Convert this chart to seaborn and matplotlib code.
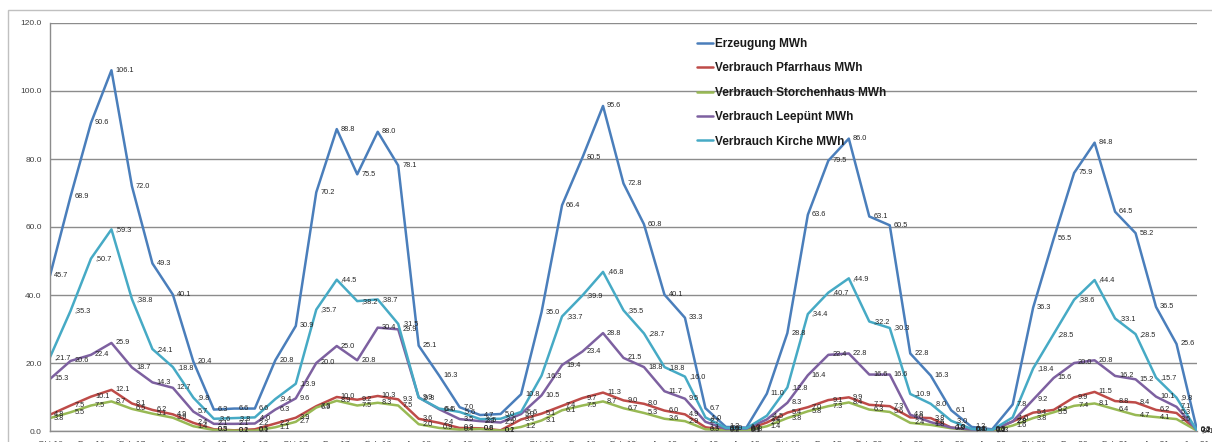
import matplotlib
matplotlib.use("Agg")
import matplotlib.pyplot as plt
from matplotlib.patches import Rectangle
import numpy as np
import pandas as pd
import seaborn as sns

# Monthly values, Okt 16 .. Jun 21 (57 months)
erzeugung = [45.7, 68.9, 90.6, 106.1, 72.0, 49.3, 40.1, 20.4, 6.3, 6.6,
             6.6, 20.8, 30.9, 70.2, 88.8, 75.5, 88.0, 78.1, 25.1, 16.3,
             7.0, 4.7, 5.0, 10.8, 35.0, 66.4, 80.5, 95.6, 72.8, 60.8,
             40.1, 33.3, 6.7, 1.2, 1.0, 11.0, 28.8, 63.6, 79.5, 86.0,
             63.1, 60.5, 22.8, 16.3, 6.1, 1.2, 0.5, 7.8, 36.3, 56.5,
             75.9, 84.8, 64.5, 58.2, 36.5, 25.6, 0.3]
pfarrhaus = [4.8, 7.5, 10.1, 12.1, 8.1, 6.2, 4.9, 2.4, 0.5, 0.2,
             0.5, 2.2, 3.9, 7.3, 10.0, 9.2, 10.3, 9.3, 3.6, 2.4,
             0.9, 0.8, 0.2, 3.4, 5.1, 7.4, 9.7, 11.3, 9.0, 8.0,
             6.0, 4.9, 1.1, 0.3, 0.4, 2.5, 5.4, 7.0, 9.1, 9.9,
             7.7, 7.3, 4.0, 3.8, 1.0, 0.4, 0.2, 2.8, 5.4, 6.2,
             9.9, 11.5, 8.8, 8.4, 6.2, 5.3, 0.2]
storchenhaus = [3.8, 5.5, 7.5, 8.7, 6.5, 5.1, 3.9, 1.4, 0.3, 0.1,
                0.1, 1.1, 2.7, 6.9, 8.9, 7.5, 8.3, 7.5, 2.0, 0.9,
                0.4, 0.6, 0.1, 1.2, 3.1, 6.1, 7.5, 8.7, 6.7, 5.3,
                3.6, 2.9, 0.5, 0.2, 0.1, 1.4, 3.8, 5.8, 7.3, 8.4,
                6.3, 5.6, 2.4, 1.8, 0.8, 0.3, 0.1, 1.6, 3.8, 5.5,
                7.4, 8.1, 6.4, 4.7, 4.1, 3.5, 0.1]
leepuent = [15.3, 20.6, 22.4, 25.9, 18.7, 14.3, 12.7, 5.7, 2.1, 2.1,
            2.2, 6.3, 9.6, 20.0, 25.0, 20.8, 30.4, 29.9, 9.9, 6.4,
            3.5, 2.9, 2.5, 5.0, 10.5, 19.4, 23.4, 28.8, 21.5, 18.8,
            11.7, 9.5, 2.7, 0.6, 0.7, 3.4, 8.3, 16.4, 22.4, 22.8,
            16.6, 16.6, 4.8, 2.6, 1.0, 0.4, 0.3, 2.8, 9.2, 15.6,
            20.0, 20.8, 16.2, 15.2, 10.1, 7.1, 0.2]
kirche = [21.7, 35.3, 50.7, 59.3, 38.8, 24.1, 18.8, 9.8, 3.6, 3.8,
          4.0, 9.4, 13.9, 35.7, 44.5, 38.2, 38.7, 31.5, 9.8, 6.6,
          5.6, 3.5, 3.6, 5.6, 16.3, 33.7, 39.9, 46.8, 35.5, 28.7,
          18.8, 16.0, 4.0, 0.9, 0.8, 4.5, 12.8, 34.4, 40.7, 44.9,
          32.2, 30.3, 10.9, 8.0, 3.0, 0.6, 0.3, 4.0, 18.4, 28.5,
          38.6, 44.4, 33.1, 28.5, 15.7, 9.8, 0.1]

series_names = ["Erzeugung MWh", "Verbrauch Pfarrhaus MWh",
                "Verbrauch Storchenhaus MWh", "Verbrauch Leepünt MWh",
                "Verbrauch Kirche MWh"]
series_values = [erzeugung, pfarrhaus, storchenhaus, leepuent, kirche]
series_colors = ["#4A7EBB", "#BE4B48", "#98B954", "#7D60A0", "#46AAC5"]
label_prefix = ["", "", "", "", ","]

tick_labels = ["Okt 16", "Dez 16", "Feb 17", "Apr 17", "Jun 17", "Aug 17",
               "Okt 17", "Dez 17", "Feb 18", "Apr 18", "Jun 18", "Aug 18",
               "Okt 18", "Dez 18", "Feb 19", "Apr 19", "Jun 19", "Aug 19",
               "Okt 19", "Dez 19", "Feb 20", "Apr 20", "Jun 20", "Aug 20",
               "Okt 20", "Dez 20", "Feb 21", "Apr 21", "Jun 21"]

n = len(erzeugung)
df = pd.concat(
    [pd.DataFrame({"monat": np.arange(n), "wert": vals, "serie": name})
     for name, vals in zip(series_names, series_values)],
    ignore_index=True)

sns.set_theme(style="white")
plt.rcParams["font.family"] = ["Liberation Sans", "DejaVu Sans"]

W, H = 1212, 442
fig = plt.figure(figsize=(W / 100, H / 100), dpi=100)
ax = fig.add_axes([50 / W, (H - 431) / H, (1197 - 50) / W, (431 - 23) / H])

sns.lineplot(data=df, x="monat", y="wert", hue="serie",
             hue_order=series_names, palette=series_colors,
             linewidth=1.8, ax=ax, legend=True)
for line in ax.get_lines():
    line.set_solid_joinstyle("round")

# value labels to the right of each point
for name, vals, col, pre in zip(series_names, series_values, series_colors, label_prefix):
    for i, v in enumerate(vals):
        ax.annotate(f"{pre}{v:.1f}", (i, v), xytext=(4, 0),
                    textcoords="offset pixels", ha="left", va="center",
                    fontsize=5.3, color="#262626", zorder=5)

ax.set_xlim(0, n - 1)
ax.set_ylim(0, 120)
ax.set_yticks(np.arange(0, 121, 20))
ax.set_yticklabels([f"{t:.1f}" for t in np.arange(0, 121, 20)])
ax.set_xticks(np.arange(0, n, 2))
ax.set_xticklabels(tick_labels)
ax.set_xlabel("")
ax.set_ylabel("")

ax.yaxis.grid(True, color="#8c8c8c", linewidth=1.0)
ax.xaxis.grid(False)
ax.set_axisbelow(True)
for side in ["top", "right"]:
    ax.spines[side].set_visible(False)
for side in ["left", "bottom"]:
    ax.spines[side].set_color("#8c8c8c")
    ax.spines[side].set_linewidth(1.0)
ax.tick_params(axis="both", which="major", direction="out", length=3,
               width=1, color="#8c8c8c", labelsize=6, labelcolor="#404040")
ax.tick_params(axis="x", pad=4)
ax.tick_params(axis="y", pad=3)

handles, labels = ax.get_legend_handles_labels()
leg = ax.legend(handles, labels, loc="upper left",
                bbox_to_anchor=(697 / W, 1 - 38 / H),
                bbox_transform=fig.transFigure,
                frameon=False, fontsize=8.5, handlelength=1.35,
                handletextpad=0.15, labelspacing=1.05, borderpad=0,
                borderaxespad=0)
for txt in leg.get_texts():
    txt.set_fontweight("bold")
    txt.set_color("#1a1a1a")
for lh in leg.get_lines():
    lh.set_linewidth(1.8)

# chart area border
fig.add_artist(Rectangle((8 / W, -0.2), 1.2, 1.2 - 10 / H,
                         transform=fig.transFigure, fill=False,
                         edgecolor="#c0c0c0", linewidth=1.0))

fig.savefig("out.png", dpi=100)
